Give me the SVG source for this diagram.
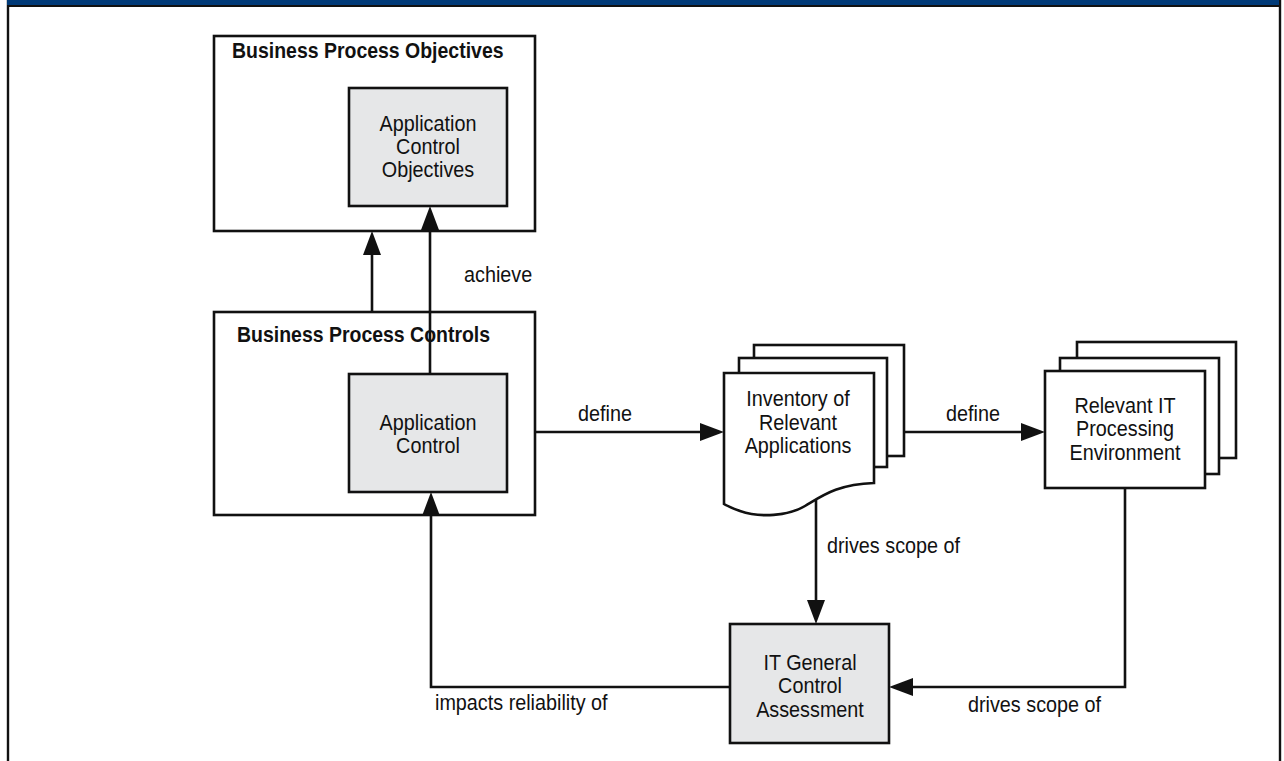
<svg xmlns="http://www.w3.org/2000/svg" width="1284" height="761" viewBox="0 0 1284 761">
  <style>
    .box { fill: #ffffff; stroke: #111111; stroke-width: 2.6; }
    .grey { fill: #e6e7e8; stroke: #111111; stroke-width: 2.6; }
    .conn { fill: none; stroke: #111111; stroke-width: 2.6; marker-end: url(#arrow); }
    .title { font-family: "Liberation Sans", Arial, sans-serif; font-weight: bold; font-size: 22px; fill: #111111; }
    .lbl { font-family: "Liberation Sans", Arial, sans-serif; font-size: 22px; fill: #111111; }
    .mid { text-anchor: middle; }
  </style>
  <defs>
    <marker id="arrow" viewBox="0 0 24 18" refX="13" refY="9" markerWidth="24" markerHeight="18" markerUnits="userSpaceOnUse" orient="auto">
      <path d="M0,0 L24,9 L0,18 Z" fill="#111111"/>
    </marker>
  </defs>

  <!-- page frame with header band -->
  <g id="frame">
    <rect x="8" y="-10" width="1272" height="800" fill="#ffffff" stroke="#111111" stroke-width="2.4"/>
    <rect x="7" y="0" width="1272" height="5" fill="#003a78"/>
    <rect x="7" y="5" width="1274" height="2" fill="#111111"/>
  </g>

  <g id="bp-objectives">
    <rect class="box" x="214" y="36" width="321" height="195"/>
    <text class="title" transform="translate(232,58) scale(0.885,1)">Business Process Objectives</text>
  </g>

  <g id="app-control-objectives">
    <rect class="grey" x="349" y="88" width="158" height="118"/>
    <g class="lbl mid">
      <text transform="translate(428,131) scale(0.9,1)">Application</text>
      <text transform="translate(428,154) scale(0.9,1)">Control</text>
      <text transform="translate(428,177) scale(0.9,1)">Objectives</text>
    </g>
  </g>

  <g id="bp-controls">
    <rect class="box" x="214" y="312" width="321" height="203"/>
    <text class="title" transform="translate(237,342) scale(0.885,1)">Business Process Controls</text>
  </g>

  <g id="app-control">
    <rect class="grey" x="349" y="374" width="158" height="118"/>
    <g class="lbl mid">
      <text transform="translate(428,430) scale(0.9,1)">Application</text>
      <text transform="translate(428,453) scale(0.9,1)">Control</text>
    </g>
  </g>

  <g id="inventory">
    <rect class="box" x="754" y="345" width="150" height="111"/>
    <rect class="box" x="739" y="358" width="148" height="109"/>
    <path class="box" d="M724,373 H874 V483 C838,484 822,496 805,506 C788,516 760,518 740,511 C732,508 727,506 724,504 Z"/>
    <g class="lbl mid">
      <text transform="translate(798,406) scale(0.9,1)">Inventory of</text>
      <text transform="translate(798,430) scale(0.9,1)">Relevant</text>
      <text transform="translate(798,453) scale(0.9,1)">Applications</text>
    </g>
  </g>

  <g id="it-environment">
    <rect class="box" x="1077" y="342" width="159" height="116"/>
    <rect class="box" x="1060" y="358" width="159" height="116"/>
    <rect class="box" x="1045" y="371" width="160" height="117"/>
    <g class="lbl mid">
      <text transform="translate(1125,413) scale(0.9,1)">Relevant IT</text>
      <text transform="translate(1125,436) scale(0.9,1)">Processing</text>
      <text transform="translate(1125,460) scale(0.9,1)">Environment</text>
    </g>
  </g>

  <g id="gc-assessment">
    <rect class="grey" x="730" y="624" width="159" height="119"/>
    <g class="lbl mid">
      <text transform="translate(810,670) scale(0.9,1)">IT General</text>
      <text transform="translate(810,693) scale(0.9,1)">Control</text>
      <text transform="translate(810,717) scale(0.9,1)">Assessment</text>
    </g>
  </g>

  <!-- connectors, drawn over the boxes they cross -->
  <g id="connectors">
    <path class="conn" d="M372,312 V242"/>
    <path class="conn" d="M430,374 V217"/>
    <path class="conn" d="M535,432 H713"/>
    <path class="conn" d="M904,432 H1034"/>
    <path class="conn" d="M816,500 V613"/>
    <path class="conn" d="M1125,488 V687 H900"/>
    <path class="conn" d="M729,687 H431 V503"/>
  </g>

  <!-- connector labels -->
  <g id="labels" class="lbl">
    <text transform="translate(464,282) scale(0.9,1)">achieve</text>
    <text transform="translate(578,421) scale(0.9,1)">define</text>
    <text transform="translate(946,421) scale(0.9,1)">define</text>
    <text transform="translate(827,553) scale(0.9,1)">drives scope of</text>
    <text transform="translate(435,710) scale(0.9,1)">impacts reliability of</text>
    <text transform="translate(968,712) scale(0.9,1)">drives scope of</text>
  </g>
</svg>
